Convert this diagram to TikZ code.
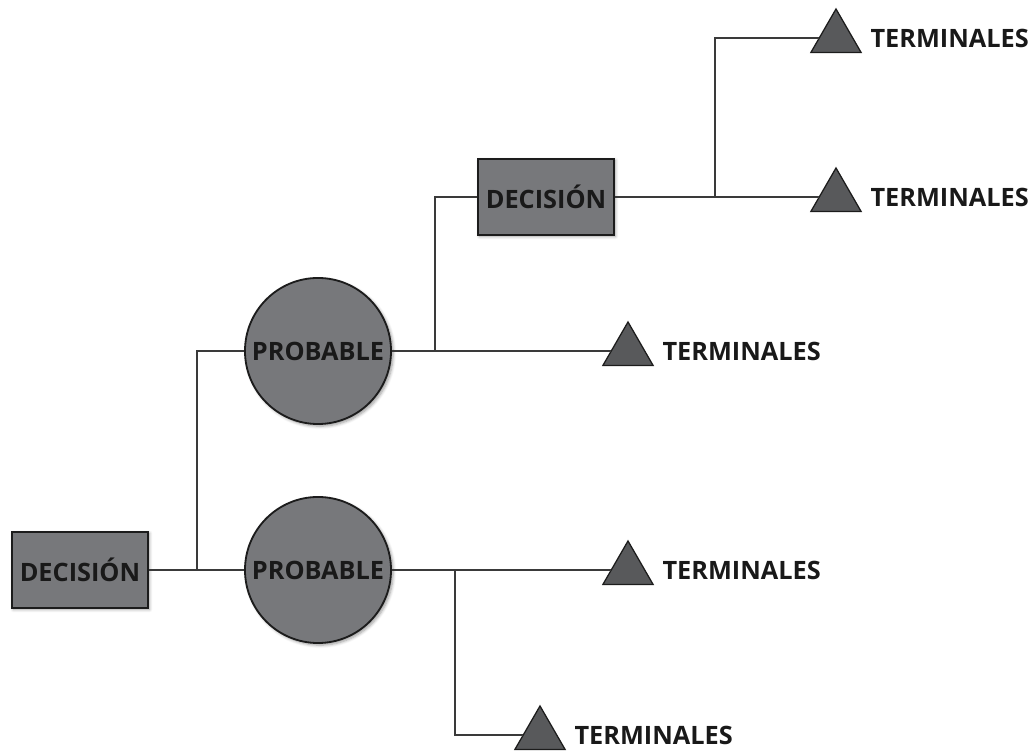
\documentclass[tikz,border=0pt]{standalone}
\usepackage{fontspec}
\setmainfont{Open Sans}
\usetikzlibrary{shapes.geometric,positioning,shadows.blur}
\definecolor{nodegray}{HTML}{77787B}
\definecolor{trigray}{HTML}{58595B}
\definecolor{edgedark}{HTML}{1C1C1C}
\definecolor{linegray}{HTML}{3A3A3A}

\begin{document}
\begin{tikzpicture}[x=0.025cm, y=0.025cm,
  txt/.style={font=\fontsize{18}{20}\selectfont\bfseries, text=black!90},
  dec/.style={rectangle, draw=edgedark, line width=1.3pt, fill=nodegray, minimum width=3.4cm, minimum height=1.9cm, txt, blur shadow={shadow xshift=1pt, shadow yshift=-1pt, shadow blur steps=4}},
  prob/.style={circle, draw=edgedark, line width=1.3pt, fill=nodegray, minimum size=3.65cm, inner sep=0pt, txt, blur shadow={shadow xshift=1.5pt, shadow yshift=-1.5pt, shadow blur steps=5}},
  term/.style={regular polygon, regular polygon sides=3, minimum size=1.45cm, inner sep=0pt, draw=edgedark, line width=0.9pt, fill=trigray},
  lbl/.style={txt, anchor=west, inner sep=0pt},
  link/.style={linegray, line width=1.1pt}
]
  \useasboundingbox (0,0) rectangle (1028,755);
  % decisions and chance nodes
  \node[dec] (d1) at (80,185) {DECISIÓN};
  \node[prob] (p1) at (318,404) {PROBABLE};
  \node[prob] (p2) at (318,185) {PROBABLE};
  \node[dec] (d2) at (546,558) {DECISIÓN};
  % terminals
  \foreach \n/\x/\y in {t1/628/404, t2/836/558, t3/836/717, t4/628/185, t5/540/20}{
    \node[term] (\n) at (\x,\y) {};
    \node[lbl, right=0.42cm of \n.east] (l\n) {TERMINALES};
  }
  % junctions
  \coordinate (j1) at (197,185);
  \coordinate (j2) at (435,404);
  \coordinate (j3) at (715,558);
  \coordinate (j4) at (455,185);
  % branches
  \draw[link] (d1) -- (p2);
  \draw[link] (j1) |- (p1);
  \draw[link] (p1) -- (t1);
  \draw[link] (j2) |- (d2);
  \draw[link] (d2) -- (t2);
  \draw[link] (j3) |- (t3);
  \draw[link] (p2) -- (t4);
  \draw[link] (j4) |- (t5);
\end{tikzpicture}
\end{document}
